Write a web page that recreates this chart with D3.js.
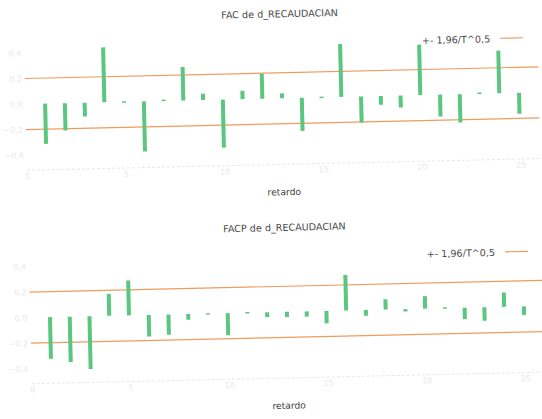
<!DOCTYPE html>
<html>
<head>
<meta charset="utf-8">
<script src="https://cdn.jsdelivr.net/npm/d3@7"></script>
<style>
  html, body { margin: 0; padding: 0; background: #ffffff; }
  svg { display: block; }
  text { font-family: "DejaVu Sans", sans-serif; }
</style>
</head>
<body>
<script>
// ---- data ----
const lags = d3.range(1, 26);
const facValues = [-0.315, -0.214, -0.108, 0.430, 0.004, -0.393, 0.010, 0.262, 0.049, -0.376,
                   0.066, 0.195, 0.038, -0.259, 0.006, 0.414, -0.204, -0.069, -0.093, 0.395,
                   -0.171, -0.222, 0.010, 0.334, -0.164];
const facpValues = [-0.326, -0.355, -0.413, 0.172, 0.273, -0.169, -0.159, -0.045, 0.002, -0.173,
                    0.006, -0.038, -0.041, -0.041, -0.098, 0.278, -0.045, 0.081, -0.019, 0.098,
                    0.008, -0.089, -0.105, 0.112, -0.066];
const T = 96;
const band = 1.96 / Math.sqrt(T);
const xTicks = [0, 5, 10, 15, 20, 25];
const yTicks = [-0.4, -0.2, 0, 0.2, 0.4];
const panelTitles = ["FAC de d_RECAUDACIAN", "FACP de d_RECAUDACIAN"];
const legendLabel = "+- 1,96/T^0,5";
const xLabel = "retardo";

// ---- layout ----
const W = 542, H = 419;
const svg = d3.select("body").append("svg").attr("width", W).attr("height", H);
const root = svg.append("g").attr("transform", "rotate(-1.3 271 210)");

const x = d3.scaleLinear().domain([0, 26]).range([27.85, 541.35]);
const y = d3.scaleLinear().domain([-0.518, 0.52]).range([164.7, 32.1]);
const fmt = v => d3.format(".1f")(v).replace(".", ",").replace("-", "\u2212");

const green = "#5ac67f";
const orange = "#f39a5e";

const panels = [
  { title: panelTitles[0], values: facValues, offset: 0 },
  { title: panelTitles[1], values: facpValues, offset: 213.6 }
];

panels.forEach(p => {
  const g = root.append("g").attr("transform", `translate(0,${p.offset})`);

  // faint axes
  g.append("line")
    .attr("x1", x(0)).attr("x2", x(26))
    .attr("y1", y.range()[0]).attr("y2", y.range()[0])
    .attr("stroke", "#efe4e4").attr("stroke-width", 1)
    .attr("stroke-dasharray", "3,2");

  const xa = g.append("g").attr("transform", `translate(0,${y.range()[0]})`)
    .call(d3.axisBottom(x).tickValues(xTicks).tickSize(0).tickPadding(3));
  xa.select(".domain").remove();
  xa.selectAll("text").attr("fill", "#e8e8e8").attr("font-size", 8);

  const ya = g.append("g").attr("transform", `translate(${x(0)},0)`)
    .call(d3.axisLeft(y).tickValues(yTicks).tickFormat(fmt).tickSize(0).tickPadding(3));
  ya.select(".domain").remove();
  ya.selectAll("text").attr("fill", "#e8e8e8").attr("font-size", 8);

  // confidence band lines
  [band, -band].forEach(b => {
    g.append("line")
      .attr("x1", x(0)).attr("x2", x(26))
      .attr("y1", y(b)).attr("y2", y(b))
      .attr("stroke", orange).attr("stroke-width", 1.2);
  });

  // bars
  g.selectAll("rect.bar").data(lags.map((l, i) => ({ lag: l, v: p.values[i] })))
    .enter().append("rect").attr("class", "bar")
    .attr("x", d => x(d.lag) - 2)
    .attr("width", 4)
    .attr("y", d => Math.min(y(0), y(d.v)))
    .attr("height", d => Math.max(1.5, Math.abs(y(d.v) - y(0))))
    .attr("fill", green);

  // title
  g.append("text").attr("x", 284).attr("y", 14.2).attr("dy", "0.35em")
    .attr("text-anchor", "middle").attr("font-size", 9.6).attr("fill", "#4a4a4a")
    .text(p.title);

  // legend
  g.append("text").attr("x", 494).attr("y", 44).attr("dy", "0.35em")
    .attr("text-anchor", "end").attr("font-size", 9.6).attr("fill", "#4a4a4a")
    .text(legendLabel);
  g.append("line").attr("x1", 504).attr("x2", 527).attr("y1", 43.5).attr("y2", 43.5)
    .attr("stroke", orange).attr("stroke-width", 1.2);

  // x label
  g.append("text").attr("x", 284.7).attr("y", 192.3).attr("dy", "0.35em")
    .attr("text-anchor", "middle").attr("font-size", 9.2).attr("fill", "#444")
    .text(xLabel);
});
</script>
</body>
</html>
